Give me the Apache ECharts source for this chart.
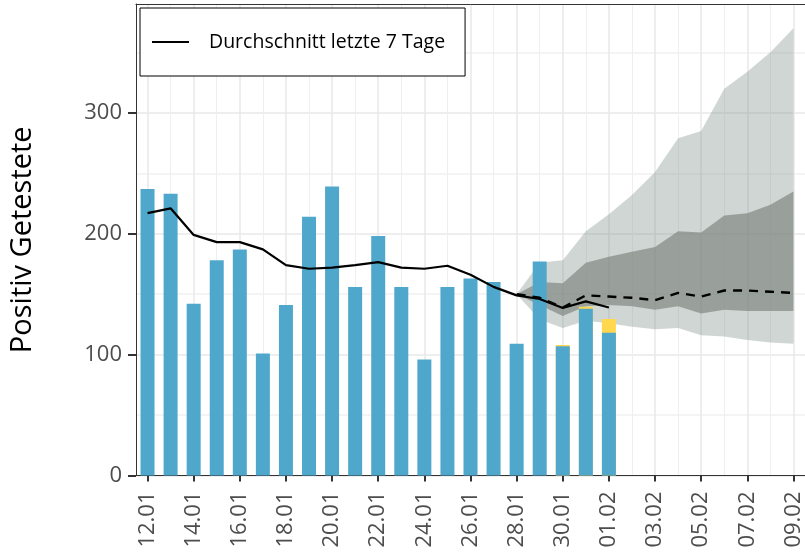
<!DOCTYPE html>
<html>
<head>
<meta charset="utf-8">
<script src="https://cdn.jsdelivr.net/npm/echarts@6/dist/echarts.min.js"></script>
<style>
html, body { margin: 0; padding: 0; background: #fff; }
#chart { width: 805px; height: 556px; }
</style>
</head>
<body>
<div id="chart"></div>
<script>
// Tage (x-Achse)
var days = ['12.01','13.01','14.01','15.01','16.01','17.01','18.01','19.01','20.01','21.01',
            '22.01','23.01','24.01','25.01','26.01','27.01','28.01','29.01','30.01','31.01',
            '01.02','02.02','03.02','04.02','05.02','06.02','07.02','08.02','09.02'];
var dayTicks = ['12.01','14.01','16.01','18.01','20.01','22.01','24.01','26.01','28.01','30.01',
                '01.02','03.02','05.02','07.02','09.02'];
var yTicks = [0, 100, 200, 300];

// Positiv Getestete pro Tag (12.01 - 01.02)
var positive = [237, 233, 142, 178, 187, 101, 141, 214, 239, 156, 198, 156, 96, 156, 163, 160, 109, 177, 107, 138, 118];
var lateReported = [0, 0, 0, 0, 0, 0, 0, 0, 0, 0, 0, 0, 0, 0, 0, 0, 0, 0, 1, 1.5, 11.5];
// Durchschnitt letzte 7 Tage
var avg7 = [217, 221, 199, 193, 193, 187, 174, 171, 172, 174, 176.5, 172, 171, 173.5, 166, 156, 149, 146, 138.5, 144, 139];

// Prognose ab 28.01
var forecastStart = 16;
var forecastMean = [150, 147, 139, 149, 148, 147, 145, 151, 148, 153, 153, 152, 151];
var innerLow = [150, 141, 132, 140, 141, 140, 137, 140, 134, 137, 136, 136, 136];
var innerHigh = [150, 160, 159, 176, 181, 185, 189, 202, 201, 215, 217, 224, 235];
var outerLow = [150, 129, 122, 128, 126, 123, 121, 122, 116, 115, 112, 110, 109];
var outerHigh = [150, 176, 178, 202, 216, 232, 251, 279, 285, 320, 334, 350, 370];

var font = 'Open Sans';

function pts(arr, start) {
    return arr.map(function (v, i) { return [start + i, v]; });
}

// Band als ein Polygon ueber die Achsen-Skalen
function bandSeries(lo, hi, fill) {
    return {
        type: 'custom',
        z: 1,
        silent: true,
        data: lo.map(function (v, i) { return [forecastStart + i, v, hi[i]]; }),
        encode: { x: 0, y: [1, 2] },
        renderItem: function (params, api) {
            if (params.dataIndex !== 0) return null;
            var top = [], bottom = [];
            for (var i = 0; i < lo.length; i++) {
                top.push(api.coord([forecastStart + i, hi[i]]));
                bottom.unshift(api.coord([forecastStart + i, lo[i]]));
            }
            return {
                type: 'polygon',
                shape: { points: top.concat(bottom) },
                style: { fill: fill }
            };
        }
    };
}

var majorIdx = dayTicks.map(function (d) { return days.indexOf(d); });
var minorIdx = [];
for (var i = 0; i < days.length; i++) {
    if (majorIdx.indexOf(i) < 0) minorIdx.push(i);
}

// gelber Anteil nur dort, wo es Nachmeldungen gibt
var totals = [];
positive.forEach(function (v, i) {
    if (lateReported[i] > 0) totals.push([i, v + lateReported[i]]);
});

var myChart = echarts.init(document.getElementById('chart'));
var option = {
    animation: false,
    backgroundColor: '#fff',
    grid: { left: 134, top: 4, width: 673, height: 471.5 },
    legend: {
        data: [{ name: 'Durchschnitt letzte 7 Tage', icon: 'rect' }],
        left: 140,
        top: 8,
        padding: [24, 20, 24, 12],
        backgroundColor: '#fff',
        borderColor: '#000',
        borderWidth: 1,
        borderRadius: 0,
        itemWidth: 37,
        itemHeight: 2,
        itemStyle: { color: '#000' },
        textStyle: { fontFamily: font, fontSize: 19.5, color: '#000', lineHeight: 20, padding: [0, 0, 0, 15] }
    },
    xAxis: [
        {
            type: 'value',
            min: -0.5,
            max: 28.5,
            position: 'bottom',
            axisLine: { show: true, onZero: false, lineStyle: { color: '#333', width: 1 } },
            axisTick: { show: true, length: 6, customValues: majorIdx, lineStyle: { color: '#333', width: 2 } },
            axisLabel: {
                customValues: majorIdx,
                rotate: 90,
                margin: 16,
                fontFamily: font,
                fontSize: 22,
                color: '#4d4d4d',
                formatter: function (v) { return days[v]; }
            },
            splitLine: { show: true, lineStyle: { color: '#e8e8e8', width: 1.5 } }
        },
        {
            type: 'value',
            min: -0.5,
            max: 28.5,
            position: 'top',
            axisLine: { show: true, onZero: false, lineStyle: { color: '#333', width: 1 } },
            axisTick: { show: false, customValues: minorIdx },
            axisLabel: { show: false, customValues: minorIdx },
            splitLine: { show: true, lineStyle: { color: '#efefef', width: 1 } }
        }
    ],
    yAxis: [
        {
            type: 'value',
            min: 0,
            max: 390,
            interval: 50,
            axisLine: { show: true, onZero: false, lineStyle: { color: '#333', width: 1 } },
            axisTick: { show: false },
            axisLabel: { show: false },
            splitLine: { show: true, showMaxLine: false, lineStyle: { color: ['#e8e8e8', '#f0f0f0'], width: 1.5 } }
        },
        {
            type: 'value',
            min: 0,
            max: 390,
            interval: 100,
            position: 'left',
            axisLine: { show: false, onZero: false },
            axisTick: { show: true, length: 8, customValues: yTicks, lineStyle: { color: '#333', width: 2 } },
            axisLabel: { customValues: yTicks, margin: 14, fontFamily: font, fontSize: 22, color: '#4d4d4d' },
            splitLine: { show: false },
            name: 'Positiv Getestete',
            nameLocation: 'middle',
            nameGap: 99,
            nameTextStyle: { fontFamily: font, fontSize: 29, color: '#000' }
        }
    ],
    series: [
        bandSeries(outerLow, outerHigh, 'rgba(126,140,132,0.36)'),
        bandSeries(innerLow, innerHigh, 'rgba(120,128,123,0.62)'),
        {
            name: 'Nachmeldung', type: 'bar', z: 2, barWidth: 14, barGap: '-100%',
            data: totals, itemStyle: { color: '#ffd84f' }
        },
        {
            name: 'Positiv', type: 'bar', z: 2, barWidth: 14, barGap: '-100%',
            data: pts(positive, 0), itemStyle: { color: '#4fa8cb' }
        },
        {
            name: 'Prognose', type: 'line', z: 3, symbol: 'none',
            data: pts(forecastMean, forecastStart),
            lineStyle: { color: '#000', width: 2.4, type: [9, 7] }
        },
        {
            name: 'Durchschnitt letzte 7 Tage', type: 'line', z: 4, symbol: 'none',
            data: pts(avg7, 0),
            lineStyle: { color: '#000', width: 2.2 },
            itemStyle: { color: '#000' }
        }
    ]
};
myChart.setOption(option);
</script>
</body>
</html>
